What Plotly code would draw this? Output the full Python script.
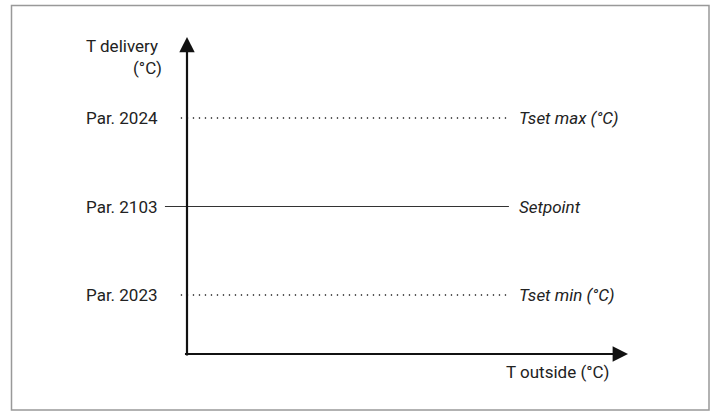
import plotly.graph_objects as go

# levels on the T delivery axis (arbitrary units)
level_names = ["Tset max (°C)", "Setpoint", "Tset min (°C)"]
level_params = ["Par. 2024", "Par. 2103", "Par. 2023"]
level_values = [80, 50, 20]
level_dash = ["dot", "solid", "dot"]

x_end = 73      # where the level lines stop on the T outside axis
x_axis_len = 100
y_axis_len = 107.5

FONT = "Roboto, Liberation Sans Narrow, Arial Narrow, sans-serif"
INK = "#222222"

fig = go.Figure()

for name, par, val, dash in zip(level_names, level_params, level_values, level_dash):
    start = -5.0 if dash == "solid" else -1.4
    fig.add_trace(go.Scatter(
        x=[start, x_end], y=[val, val], mode="lines",
        line=dict(color="#222222" if dash == "dot" else "#333333",
                  width=1.3 if dash == "dot" else 1,
                  dash="1.3px,4.7px" if dash == "dot" else "solid"),
        hoverinfo="skip", showlegend=False,
    ))
    fig.add_annotation(x=-6.1, y=val, text=par, showarrow=False,
                       xanchor="right", yanchor="middle",
                       font=dict(family=FONT, size=17, color=INK))
    fig.add_annotation(x=x_end + 1.8, y=val, text="<i>" + name + "</i>", showarrow=False,
                       xanchor="left", yanchor="middle",
                       font=dict(family=FONT, size=17, color=INK))

# axes drawn as arrows
fig.add_annotation(x=0, y=y_axis_len, ax=0, ay=-1.0, xref="x", yref="y",
                   axref="x", ayref="y", showarrow=True, arrowhead=2,
                   arrowsize=1.4, arrowwidth=2.2, arrowcolor="#111111", text="")
fig.add_annotation(x=x_axis_len, y=0, ax=-0.8, ay=0, xref="x", yref="y",
                   axref="x", ayref="y", showarrow=True, arrowhead=2,
                   arrowsize=1.4, arrowwidth=2.2, arrowcolor="#111111", text="")

fig.add_annotation(x=-6.1, y=104.5, text="T delivery", showarrow=False,
                   xanchor="right", yanchor="middle",
                   font=dict(family=FONT, size=17, color=INK))
fig.add_annotation(x=-5.2, y=96.8, text="(°C)", showarrow=False,
                   xanchor="right", yanchor="middle",
                   font=dict(family=FONT, size=17, color=INK))
fig.add_annotation(x=x_axis_len - 3.9, y=-6.0, text="T outside (°C)", showarrow=False,
                   xanchor="right", yanchor="middle",
                   font=dict(family=FONT, size=17, color=INK))

# outer frame
fig.add_shape(type="rect", xref="paper", yref="paper",
              x0=11.5 / 717, x1=709 / 717, y0=1 - 410 / 412, y1=1 - 5.5 / 412,
              line=dict(color="#999999", width=1.5), fillcolor="rgba(0,0,0,0)")

px_x = 4.41
px_y = 2.95
fig.update_xaxes(range=[-187 / px_x, 530 / px_x], visible=False, fixedrange=True)
fig.update_yaxes(range=[-58 / px_y, 354 / px_y], visible=False, fixedrange=True)
fig.update_layout(
    width=717, height=412,
    margin=dict(l=0, r=0, t=0, b=0),
    paper_bgcolor="white", plot_bgcolor="white",
    font=dict(family=FONT, color=INK),
)

fig.write_html("out.html", post_script="document.body.style.margin='0';",
               config={"displayModeBar": False})
